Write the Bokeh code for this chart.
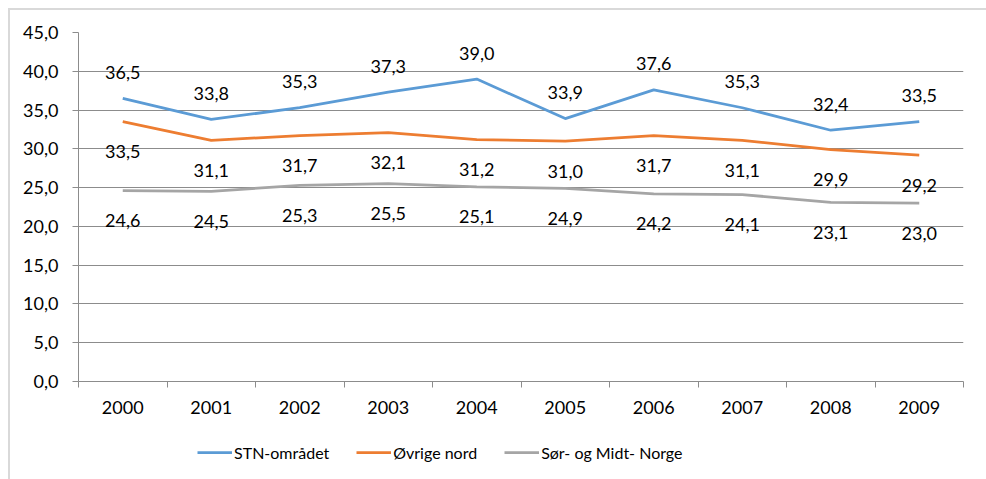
from bokeh.plotting import figure
from bokeh.layouts import column
from bokeh.models import (ColumnDataSource, FixedTicker, Legend, LegendItem, Range1d)
from bokeh.core.properties import value
from bokeh.embed import file_html
from bokeh.resources import INLINE

years = ["2000", "2001", "2002", "2003", "2004", "2005", "2006", "2007", "2008", "2009"]
stn = [36.5, 33.8, 35.3, 37.3, 39.0, 33.9, 37.6, 35.3, 32.4, 33.5]
ovrige = [33.5, 31.1, 31.7, 32.1, 31.2, 31.0, 31.7, 31.1, 29.9, 29.2]
sor = [24.6, 24.5, 25.3, 25.5, 25.1, 24.9, 24.2, 24.1, 23.1, 23.0]
series_names = ["STN-området", "Øvrige nord", "Sør- og Midt- Norge"]
y_ticks = [0, 5, 10, 15, 20, 25, 30, 35, 40, 45]

FONT = "Lato"
colors = ["#5B9BD5", "#ED7D31", "#A5A5A5"]
label_offsets = [-26, 30, 30]
GRID = "#8c8c8c"

xs = list(range(len(years)))

p = figure(width=976, height=413, output_backend="svg", toolbar_location=None,
           x_range=Range1d(-0.5, len(years) - 0.5), y_range=Range1d(0, 45),
           min_border_left=68, min_border_right=23, min_border_top=22, min_border_bottom=42)
p.outline_line_color = None
p.background_fill_color = "white"
p.border_fill_color = "white"

# axes
p.xaxis.ticker = FixedTicker(ticks=xs, minor_ticks=[x - 0.5 for x in xs] + [len(years) - 0.5])
p.xaxis.major_label_overrides = {i: y for i, y in enumerate(years)}
p.xaxis.major_tick_line_color = None
p.xaxis.major_tick_out = 0
p.xaxis.major_tick_in = 0
p.xaxis.minor_tick_out = 6
p.xaxis.minor_tick_in = 0
p.xaxis.minor_tick_line_color = GRID
p.xaxis.axis_line_color = GRID
p.xaxis.major_label_standoff = 13
p.xgrid.grid_line_color = None

p.yaxis.ticker = FixedTicker(ticks=y_ticks)
p.yaxis.major_label_overrides = {t: f"{t:.1f}".replace(".", ",") for t in y_ticks}
p.yaxis.minor_tick_line_color = None
p.yaxis.major_tick_out = 6
p.yaxis.major_tick_in = 0
p.yaxis.major_tick_line_color = GRID
p.yaxis.axis_line_color = GRID
p.yaxis.major_label_standoff = 14
p.ygrid.grid_line_color = GRID
p.ygrid.grid_line_width = 1

for ax in (p.xaxis, p.yaxis):
    ax.major_label_text_font = FONT
    ax.major_label_text_font_size = "18px"
    ax.major_label_text_color = "#000000"

for name, vals, col, off in zip(series_names, [stn, ovrige, sor], colors, label_offsets):
    src = ColumnDataSource(dict(x=xs, y=vals, lab=[f"{v:.1f}".replace(".", ",") for v in vals]))
    p.line("x", "y", source=src, line_color=col, line_width=2.75)
    p.text("x", "y", text="lab", source=src, y_offset=off, text_align="center",
           text_baseline="middle", text_font=value(FONT), text_font_size="18px",
           text_color="#000000")

# legend strip below the chart (frame aligned with main chart's frame)
lg = figure(width=976, height=56, output_backend="svg", toolbar_location=None,
            x_range=Range1d(0, 1), y_range=Range1d(0, 1),
            x_axis_location=None, y_axis_location=None,
            min_border_left=0, min_border_right=0, min_border_top=0, min_border_bottom=0)
lg.grid.grid_line_color = None
lg.outline_line_color = None
lg.border_fill_color = "white"
items = []
nan = float("nan")
for name, col in zip(series_names, colors):
    r = lg.line(x=[nan, nan], y=[nan, nan], line_color=col, line_width=2.75)
    items.append(LegendItem(label=name, renderers=[r]))
legend = Legend(items=items, orientation="horizontal", location=(119, 17),
                glyph_width=35, glyph_height=20, label_height=20, label_standoff=2,
                spacing=27, padding=0, margin=0, border_line_color=None,
                background_fill_alpha=0, label_text_font=FONT, label_text_font_size="16px",
                label_text_color="#000000")
lg.add_layout(legend, "center")

layout = column(p, lg, spacing=0,
                styles={"margin-left": "8px", "margin-top": "8px",
                        "border-left": "2px solid #d9d9d9", "border-top": "2px solid #d9d9d9"})

open("out.html", "w").write(file_html(layout, INLINE))
